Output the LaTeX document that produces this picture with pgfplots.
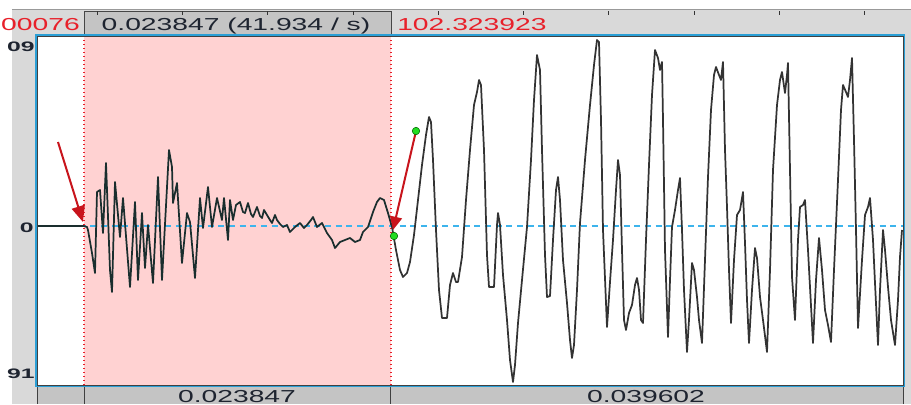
\documentclass[border=0pt]{standalone}
\usepackage{pgfplots}
\pgfplotsset{compat=1.18}
\usepackage{pgfplotstable}
\usepackage{fontspec}
\setmainfont{Liberation Sans}
\usepackage{graphicx}
\usetikzlibrary{arrows.meta}

\definecolor{pinksel}{HTML}{FFD2D2}
\definecolor{barlight}{HTML}{D9D9D9}
\definecolor{barmid}{HTML}{C4C4C4}
\definecolor{frameblue}{HTML}{2A9FD6}
\definecolor{zeroblue}{HTML}{3DB4EC}
\definecolor{selred}{HTML}{E8202A}
\definecolor{arrowred}{HTML}{C8141C}
\definecolor{wave}{HTML}{333333}
\definecolor{wavedark}{HTML}{1A2E2E}
\definecolor{labeltext}{HTML}{1E2430}
\definecolor{greendot}{HTML}{22DD22}

\newcommand{\wtxt}[1]{\scalebox{1.63}[1]{\fontsize{13}{15}\selectfont #1}}
\newcommand{\ltxt}[1]{\scalebox{1.8}[1]{\fontsize{10.3}{12}\selectfont\bfseries #1}}

\pgfplotstableread{
x y
37 226
84 226
87 227
88 230
92 253
95 273
97 192
100 190
103 233
106 163
110 270
112 292
115 182
120 237
123 198
130 287
135 202
138 280
142 213
145 268
148 225
153 283
158 177
162 280
169 150
172 167
173 203
177 183
182 263
187 213
190 222
195 278
200 198
203 228
208 187
212 227
217 198
222 220
224 198
228 240
230 200
233 220
236 205
240 202
243 212
245 213
248 203
251 214
253 217
257 207
260 216
262 218
264 210
267 215
270 220
272 223
275 215
277 220
280 224
283 227
287 225
290 232
295 227
300 223
304 228
307 225
311 220
313 217
317 227
322 223
327 233
332 240
335 248
340 242
345 240
350 238
355 242
360 240
363 232
368 227
373 212
377 202
380 198
384 200
388 213
392 227
}\wavefirst

\pgfplotstableread{
x y
392 227
396 250
400 270
403 277
407 273
410 262
414 235
418 200
422 165
426 135
429 117
431 122
433 160
436 230
439 290
442 318
447 318
450 285
453 273
456 282
458 282
462 257
466 200
470 150
474 105
477 92
479 80
481 85
484 150
487 255
489 287
494 287
497 225
498 213
500 225
503 275
507 320
510 360
513 382
515 365
518 323
522 280
527 227
531 160
534 100
537 55
540 70
542 150
545 255
547 297
550 296
553 240
556 190
558 177
560 200
563 260
567 303
570 340
572 358
574 345
577 290
580 223
585 160
590 105
594 65
597 40
599 42
601 120
603 230
607 327
610 282
613 240
616 190
618 160
620 175
622 250
624 320
626 330
629 313
632 305
635 285
637 278
639 290
641 320
643 323
646 240
649 165
652 95
655 50
658 58
660 70
662 62
663 120
665 250
668 337
670 280
672 227
675 210
678 190
680 178
682 230
684 290
687 352
689 320
692 263
694 270
697 297
699 320
702 343
705 260
708 177
711 110
714 75
716 67
719 75
721 80
723 62
725 150
727 207
729 270
731 323
734 260
737 215
740 210
743 192
745 243
747 300
749 343
752 290
755 248
757 258
760 297
763 320
767 352
770 270
773 170
777 105
780 80
782 72
785 93
787 75
788 63
790 170
792 277
795 320
798 240
800 207
803 205
805 200
808 250
810 287
813 343
816 280
819 238
822 270
825 310
828 325
831 342
834 270
838 180
841 110
843 85
846 92
848 97
850 80
852 58
854 140
856 230
858 328
862 260
865 215
868 207
870 198
873 240
875 283
878 345
880 290
883 230
885 250
888 287
891 320
895 345
898 300
900 257
902 230
}\wavesecond

\begin{document}
\begin{tikzpicture}
\begin{axis}[
  width=649.5pt, height=261.75pt, scale only axis,
  xmin=37, xmax=903, ymin=36, ymax=385, y dir=reverse,
  hide axis, clip=false]
% page background
\fill[white] (axis cs:0,0) rectangle (axis cs:911,404);
\coordinate (BL) at (axis cs:0,404);
\coordinate (TR) at (axis cs:911,0);
% grey window panels
\fill[barlight] (axis cs:12,9) rectangle (axis cs:911,404);
\draw[gray!80, line width=0.6pt] (axis cs:12,9.5) -- (axis cs:911,9.5);
% top selection button
\fill[barmid] (axis cs:84,11) rectangle (axis cs:391,34);
\draw[gray!55!black, line width=0.5pt] (axis cs:84,11) rectangle (axis cs:391,34);
% top ticks
\draw[gray!40!black, line width=0.5pt] (axis cs:97,11) -- (axis cs:97,15);
\draw[gray!40!black, line width=0.5pt] (axis cs:182,11) -- (axis cs:182,15);
\draw[gray!40!black, line width=0.5pt] (axis cs:267,11) -- (axis cs:267,15);
\draw[gray!40!black, line width=0.5pt] (axis cs:353,11) -- (axis cs:353,15);
\draw[gray!40!black, line width=0.5pt] (axis cs:438,11) -- (axis cs:438,15);
\draw[gray!40!black, line width=0.5pt] (axis cs:523,11) -- (axis cs:523,15);
\draw[gray!40!black, line width=0.5pt] (axis cs:608,11) -- (axis cs:608,15);
\draw[gray!40!black, line width=0.5pt] (axis cs:694,11) -- (axis cs:694,15);
\draw[gray!40!black, line width=0.5pt] (axis cs:779,11) -- (axis cs:779,15);
\draw[gray!40!black, line width=0.5pt] (axis cs:864,11) -- (axis cs:864,15);
% bottom bar cells
\fill[barmid] (axis cs:37,386) rectangle (axis cs:903,404);
\draw[gray!50!black, line width=0.6pt] (axis cs:37,386) -- (axis cs:37,404);
\draw[gray!50!black, line width=0.6pt] (axis cs:84,386) -- (axis cs:84,404);
\draw[gray!50!black, line width=0.6pt] (axis cs:390,386) -- (axis cs:390,404);
\draw[gray!50!black, line width=0.6pt] (axis cs:903,386) -- (axis cs:903,404);
% plotting area
\fill[white] (axis cs:37,36) rectangle (axis cs:903,385);
\fill[pinksel] (axis cs:84,36) rectangle (axis cs:391,385);
\draw[selred, dotted, line width=1pt] (axis cs:84,36) -- (axis cs:84,385);
\draw[selred, dotted, line width=1pt] (axis cs:391,36) -- (axis cs:391,385);
\draw[zeroblue, line width=0.8pt, dash pattern=on 4.5pt off 3.5pt] (axis cs:37,226) -- (axis cs:903,226);
% waveform
\addplot[wavedark, line width=1.3pt, line join=round, mark=none] table[x=x, y=y] {\wavefirst};
\addplot[wave, line width=1.3pt, line join=round, mark=none] table[x=x, y=y] {\wavesecond};
% frame
\draw[frameblue, line width=1.2pt] (axis cs:36,35) rectangle (axis cs:904,386);
\draw[black!75, line width=0.5pt] (axis cs:37,36) rectangle (axis cs:903,385);
% annotations
\addplot[arrowred, line width=1.5pt, -{Triangle[length=12pt,width=10pt]}] coordinates {(58,142) (83,222)};
\addplot[arrowred, line width=1.5pt, -{Triangle[length=10pt,width=9pt]}] coordinates {(416,131) (393,230)};
\addplot[only marks, mark=*, mark size=2.8pt, mark options={fill=greendot, draw=green!40!black, line width=0.4pt}] coordinates {(416,131) (394,236)};
% texts
\node[anchor=base east, inner sep=0pt, text=selred] at (axis cs:80,30) {\wtxt{00076}};
\node[anchor=base east, inner sep=0pt, text=labeltext] at (axis cs:35,51) {\ltxt{09}};
\node[anchor=base east, inner sep=0pt, text=labeltext] at (axis cs:34,232) {\ltxt{0}};
\node[anchor=base east, inner sep=0pt, text=labeltext] at (axis cs:35,378) {\ltxt{91}};
\node[anchor=base, inner sep=0pt, text=labeltext] at (axis cs:236,30) {\wtxt{0.023847 (41.934 / s)}};
\node[anchor=base west, inner sep=0pt, text=selred] at (axis cs:397,30) {\wtxt{102.323923}};
\node[anchor=base, inner sep=0pt, text=labeltext] at (axis cs:237,402) {\wtxt{0.023847}};
\node[anchor=base, inner sep=0pt, text=labeltext] at (axis cs:646,402) {\wtxt{0.039602}};
\end{axis}
\pgfresetboundingbox
\path[use as bounding box] (BL) rectangle (TR);
\end{tikzpicture}
\end{document}
